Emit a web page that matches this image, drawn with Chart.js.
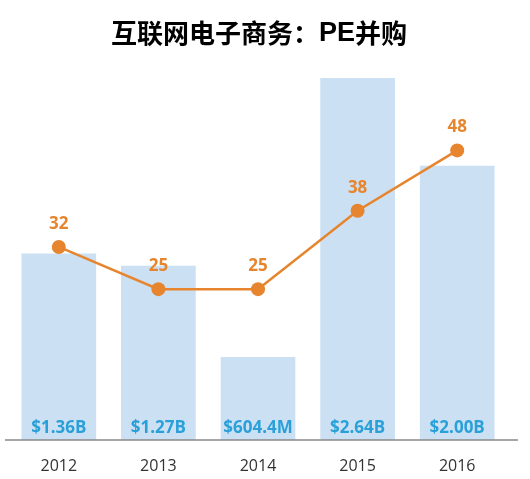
<!DOCTYPE html>
<html>
<head>
<meta charset="utf-8">
<script src="https://cdn.jsdelivr.net/npm/chart.js@4"></script>
<style>
  body { margin: 0; background: #fff; }
  #wrap { width: 530px; height: 479px; }
</style>
</head>
<body>
<div id="wrap"><canvas id="peChart" width="530" height="479"></canvas></div>
<script>
// data
const years = ['2012', '2013', '2014', '2015', '2016'];
const dealValues = [1.36, 1.27, 0.6044, 2.64, 2.00];          // billions USD
const dealLabels = ['$1.36B', '$1.27B', '$604.4M', '$2.64B', '$2.00B'];
const dealCounts = [32, 25, 25, 38, 48];

const titleCn1 = '互联网电子商务：';
const titleLatin = 'PE';
const titleCn2 = '并购';

const barColor = '#cce0f4';
const barTextColor = '#2aa0d8';
const lineColor = '#e6852d';

// title drawn in two fonts, like the original
const titlePlugin = {
    id: 'mixedTitle',
    afterDraw(chart) {
        const ctx = chart.ctx;
        const cnFont = 'bold 26px "Noto Sans CJK SC"';
        const latinFont = 'bold 27px "Liberation Sans"';
        ctx.save();
        ctx.textBaseline = 'middle';
        ctx.fillStyle = '#000';
        ctx.font = cnFont;
        const w1 = ctx.measureText(titleCn1).width;
        const w3 = ctx.measureText(titleCn2).width;
        ctx.font = latinFont;
        const w2 = ctx.measureText(titleLatin).width;
        let x = 259 - (w1 + w2 + w3) / 2;
        const y = 33;
        ctx.textAlign = 'left';
        ctx.font = cnFont;
        ctx.fillText(titleCn1, x, y);
        x += w1;
        ctx.font = latinFont;
        ctx.fillText(titleLatin, x, y + 1);
        x += w2;
        ctx.font = cnFont;
        ctx.fillText(titleCn2, x, y);
        ctx.restore();
    }
};

// baseline under the bars
const axisLinePlugin = {
    id: 'axisLine',
    afterDatasetsDraw(chart) {
        const ctx = chart.ctx;
        const y = chart.chartArea.bottom;
        ctx.save();
        ctx.strokeStyle = '#8a8a8a';
        ctx.lineWidth = 1.5;
        ctx.beginPath();
        ctx.moveTo(5, y);
        ctx.lineTo(518, y);
        ctx.stroke();
        ctx.restore();
    }
};

// value labels: money inside the bars, counts over the points
const valueLabelPlugin = {
    id: 'valueLabels',
    afterDatasetsDraw(chart) {
        const ctx = chart.ctx;
        const barMeta = chart.getDatasetMeta(1);
        const lineMeta = chart.getDatasetMeta(0);
        ctx.save();
        ctx.textAlign = 'center';
        ctx.textBaseline = 'middle';

        ctx.font = 'bold 17px "Open Sans"';
        ctx.fillStyle = barTextColor;
        barMeta.data.forEach((bar, i) => {
            ctx.fillText(dealLabels[i], bar.x, chart.chartArea.bottom - 12);
        });

        ctx.font = 'bold 17px "Open Sans"';
        ctx.fillStyle = lineColor;
        lineMeta.data.forEach((pt, i) => {
            ctx.fillText(String(dealCounts[i]), pt.x, pt.y - 23);
        });
        ctx.restore();
    }
};

const ctx = document.getElementById('peChart').getContext('2d');
const peChart = new Chart(ctx, {
    data: {
        labels: years,
        datasets: [
            {
                type: 'line',
                label: 'Deals',
                data: dealCounts,
                yAxisID: 'yCount',
                borderColor: lineColor,
                backgroundColor: lineColor,
                borderWidth: 2.5,
                pointRadius: 7,
                pointHoverRadius: 7,
                pointBorderWidth: 0,
                tension: 0,
                order: 0
            },
            {
                type: 'bar',
                label: 'Value',
                data: dealValues,
                yAxisID: 'yValue',
                backgroundColor: barColor,
                borderWidth: 0,
                categoryPercentage: 1,
                barPercentage: 0.75,
                order: 1
            }
        ]
    },
    options: {
        responsive: false,
        animation: false,
        layout: {
            padding: { top: 78, left: 9, right: 23, bottom: 5 }
        },
        plugins: {
            legend: { display: false },
            title: { display: false },
            tooltip: { enabled: false }
        },
        scales: {
            x: {
                grid: { display: false },
                border: { display: false },
                ticks: {
                    color: '#333',
                    font: { family: 'Open Sans', size: 16 },
                    padding: 9
                },
                afterFit(scale) {
                    scale.height = 34;
                }
            },
            yValue: {
                display: false,
                min: 0,
                max: 2.64
            },
            yCount: {
                display: false,
                min: 0,
                max: 60
            }
        }
    },
    plugins: [titlePlugin, axisLinePlugin, valueLabelPlugin]
});
</script>
</body>
</html>
